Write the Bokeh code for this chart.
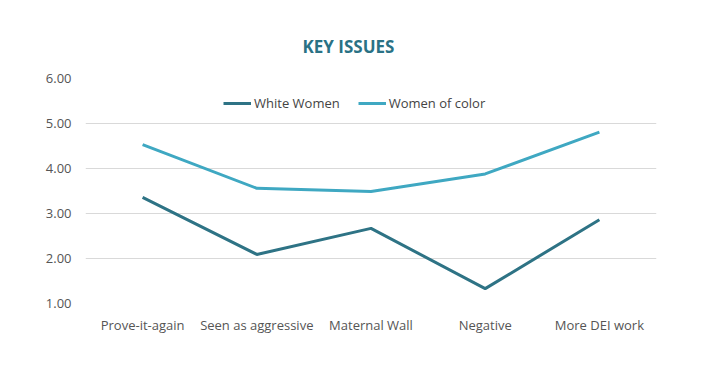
from bokeh.plotting import figure
from bokeh.models import FactorRange, Range1d, Legend, LegendItem, Title, NumeralTickFormatter, FixedTicker
from bokeh.embed import file_html
from bokeh.resources import INLINE

categories = ["Prove-it-again", "Seen as aggressive", "Maternal Wall", "Negative", "More DEI work"]
white_women = [3.36, 2.09, 2.67, 1.33, 2.86]
women_of_color = [4.53, 3.56, 3.49, 3.88, 4.81]
y_ticks = [1, 2, 3, 4, 5, 6]

FONT = "Open Sans"
p = figure(width=691, height=351, x_range=FactorRange(*categories, range_padding=0),
           y_range=Range1d(1, 6), output_backend="svg", toolbar_location=None,
           min_border_left=85, min_border_right=35, min_border_top=78, min_border_bottom=48)
p.title = None
t = Title(text="KEY ISSUES", align="left", text_font=FONT, text_font_size="17px",
          text_font_style="bold", text_color="#2A7285", offset=217, standoff=42)
p.add_layout(t, "above")

r1 = p.line(categories, white_women, line_color="#2E7385", line_width=3)
r2 = p.line(categories, women_of_color, line_color="#3FA8C2", line_width=3)

legend = Legend(items=[LegendItem(label="White Women", renderers=[r1]),
                       LegendItem(label="Women of color", renderers=[r2])],
                location=(138, 191), orientation="horizontal",
                border_line_color=None, background_fill_alpha=0,
                label_text_font=FONT, label_text_font_size="13px", label_text_color="#444444",
                glyph_width=28, glyph_height=12, spacing=18, margin=0, padding=4,
                label_standoff=3)
p.add_layout(legend, "center")

p.yaxis.ticker = FixedTicker(ticks=y_ticks)
p.yaxis.formatter = NumeralTickFormatter(format="0.00")
for ax in (p.xaxis[0], p.yaxis[0]):
    ax.axis_line_color = None
    ax.major_tick_line_color = None
    ax.minor_tick_line_color = None
    ax.major_label_text_font = FONT
    ax.major_label_text_font_size = "13px"
    ax.major_label_text_color = "#555555"
p.yaxis.major_label_standoff = 8
p.xaxis.major_label_standoff = 6
p.xgrid.grid_line_color = None
p.ygrid.grid_line_color = "#D9D9D9"
p.ygrid.grid_line_width = 1
p.outline_line_color = None

open("out.html", "w").write(file_html(p, INLINE))
